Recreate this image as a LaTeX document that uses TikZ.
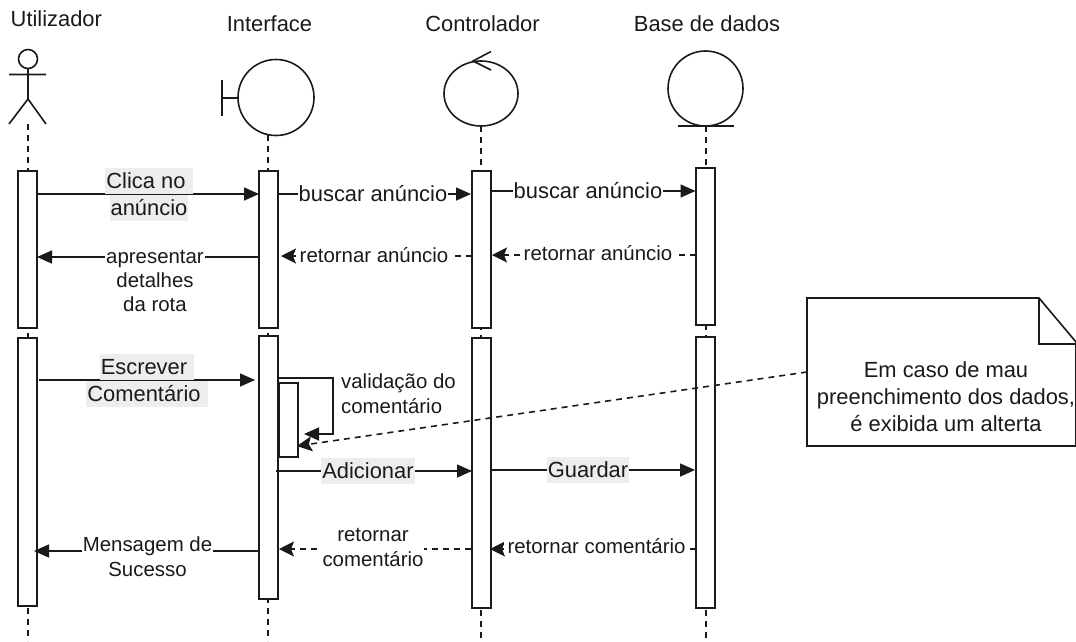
\documentclass[tikz,border=0pt]{standalone}
\usepackage{fontspec}
\setmainfont{Liberation Sans}
\usetikzlibrary{arrows.meta}
\definecolor{ink}{HTML}{1A1A1A}
\definecolor{lbl}{HTML}{EDEDED}
\tikzset{
  every node/.style={text=ink,inner sep=0pt,align=center},
  big/.style={font=\fontsize{21.9}{27}\selectfont},
  small/.style={font=\fontsize{20.4}{25}\selectfont},
  line/.style={draw=ink,line width=1.6pt},
  life/.style={draw=ink,line width=1.6pt,dash pattern=on 6pt off 5pt},
  bar/.style={draw=ink,fill=white,line width=1.6pt,minimum width=19pt},
  msg/.style={draw=ink,line width=1.6pt,-{Stealth[length=15pt,width=13pt,inset=0pt]}},
  ret/.style={draw=ink,line width=1.6pt,dash pattern=on 6pt off 5pt,-{Stealth[length=15pt,width=15pt,inset=3pt]}},
  grey/.style={big,fill=lbl,inner xsep=1pt,text height=18pt,text depth=3pt,inner ysep=2.5pt},
  whitelabel/.style={fill=white,inner xsep=1pt,inner ysep=1pt},
  widewhite/.style={fill=white,inner xsep=4pt,inner ysep=1pt},
}
\begin{document}
\begin{tikzpicture}[x=1pt,y=-1pt]
\useasboundingbox (0,0) rectangle (1076,641);
% titles
\node[big,anchor=west] (tu) at (10.5,19) {Utilizador};
\node[big] (ti) at (269.5,24) {Interface};
\node[big] (tc) at (482.5,24) {Controlador};
\node[big] (tb) at (707,24) {Base de dados};
% lifelines
\coordinate (l1t) at (28,124); \coordinate (l1b) at (28,641);
\coordinate (l2t) at (268,135); \coordinate (l2b) at (268,641);
\coordinate (l3t) at (481,126); \coordinate (l3b) at (481,641);
\coordinate (l4t) at (706,126); \coordinate (l4b) at (706,641);
\draw[life] (l1t)--(l1b);
\draw[life] (l2t)--(l2b);
\draw[life] (l3t)--(l3b);
\draw[life] (l4t)--(l4b);
% actor
\draw[line] (28,59) circle (9.5);
\draw[line] (28,68.5)--(28,99) (9,74.5)--(46,74.5) (9,124)--(28,99)--(46,124);
% boundary
\draw[line] (276,97.5) circle (38);
\draw[line] (222,80)--(222,116) (222,98)--(238,98);
% control
\draw[line] (481,93.5) ellipse (37 and 32.5);
\draw[line] (491,51.5)--(473,61)--(491,70);
% entity
\draw[line] (705.5,88.5) circle (37.5);
\draw[line] (678,126)--(734,126);
% activation bars
\node[bar,minimum height=157pt] (a1) at (27.5,249.5) {};
\node[bar,minimum height=157pt] (a2) at (268.5,249.5) {};
\node[bar,minimum height=157pt] (a3) at (481.5,249.5) {};
\node[bar,minimum height=157pt] (a4) at (705.5,246.5) {};
\node[bar,minimum height=268pt] (b1) at (27.5,472) {};
\node[bar,minimum height=263pt] (b2) at (268.5,467.5) {};
\node[bar,minimum height=270pt] (b3) at (481.5,473) {};
\node[bar,minimum height=271pt] (b4) at (705.5,472.5) {};
% self activation
\node[bar,minimum height=74pt,anchor=north west] (s2) at (278,382) {};
% note
\draw[line,fill=white] (807,298)--(1039,298)--(1076,342)--(1076,446)--(807,446)--cycle;
\draw[line] (1039,298)--(1039,344)--(1076,344);
\node[big] (note) at (946,397) {Em caso de mau\\preenchimento dos dados,\\é exibida um alterta};
% messages
\coordinate (n1) at (807,372);
\coordinate (n2) at (297,446);
\draw[msg] (38,194)--(259,194);
\node[grey] at (149,181) {Clica no\ };
\node[grey] at (149,208) {anúncio};
\draw[msg] (278,194)--(471,194);
\node[big,whitelabel] at (373,194) {buscar anúncio};
\draw[msg] (491,191)--(695.5,191);
\node[big,whitelabel] at (588,191) {buscar anúncio};
\draw[msg] (259,257)--(37,257);
\node[small,whitelabel,font=\fontsize{20.4}{24}\selectfont] (m3) at (155,281) {apresentar\ \\detalhes\\ da rota};
\draw[ret] (472,256)--(281,256);
\node[small,widewhite] at (374,255) {retornar anúncio};
\draw[ret] (696,255)--(492,255);
\node[small,widewhite] at (598,253) {retornar anúncio};
\draw[msg] (39,380)--(255,380);
\node[grey] at (147,366.5) {Escrever\ };
\node[grey] at (147,394) {Comentário\ };
% self
\draw[msg] (278,378)--(333,378)--(333,434)--(304,434);
\node[small,anchor=west,align=left] at (341,393.5) {validação do\\comentário};
\draw[ret] (n1)--(n2);
\draw[msg] (276,471)--(472,471);
\node[grey] at (368,471) {Adicionar};
\draw[msg] (492,470)--(695,470);
\node[grey] at (588,470) {Guardar};
\draw[msg] (258,551)--(34,551);
\node[small,whitelabel] at (147.5,556.5) {Mensagem de\\Sucesso};
\draw[ret] (471,549)--(279,549);
\node[small,whitelabel] at (373,547.5) {retornar\\comentário};
\draw[ret] (695,549)--(490,549);
\node[small,widewhite] at (596.5,546) {retornar comentário};
\end{tikzpicture}
\end{document}
